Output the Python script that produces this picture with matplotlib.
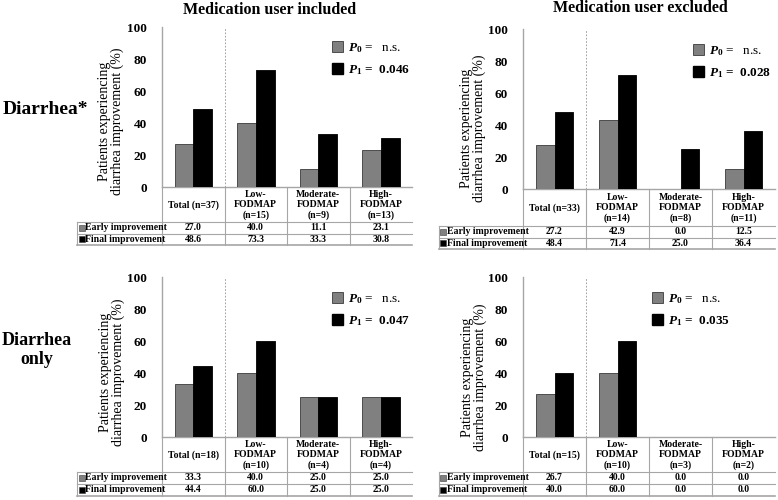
import matplotlib
matplotlib.use("Agg")
import matplotlib.pyplot as plt
from matplotlib.patches import Patch
import numpy as np

plt.rcParams['font.family'] = ['Liberation Serif', 'DejaVu Serif']
plt.rcParams['mathtext.fontset'] = 'custom'
plt.rcParams['mathtext.it'] = 'Liberation Serif:italic:bold'
plt.rcParams['mathtext.rm'] = 'Liberation Serif:bold'
plt.rcParams['mathtext.bf'] = 'Liberation Serif:bold'

# ---------------- data ----------------
groups = ["Total", "Low-\nFODMAP", "Moderate-\nFODMAP", "High-\nFODMAP"]
row_labels = ["Early improvement", "Final improvement"]
yticks = [0, 20, 40, 60, 80, 100]

n_inc = [37, 15, 9, 13]
early_inc = [27.0, 40.0, 11.1, 23.1]
final_inc = [48.6, 73.3, 33.3, 30.8]

n_exc = [33, 14, 8, 11]
early_exc = [27.2, 42.9, 0.0, 12.5]
final_exc = [48.4, 71.4, 25.0, 36.4]

n_only_inc = [18, 10, 4, 4]
early_only_inc = [33.3, 40.0, 25.0, 25.0]
final_only_inc = [44.4, 60.0, 25.0, 25.0]

n_only_exc = [15, 10, 3, 2]
early_only_exc = [26.7, 40.0, 0.0, 0.0]
final_only_exc = [40.0, 60.0, 0.0, 0.0]

p0_labels = ["n.s.", "n.s.", "n.s.", "n.s."]
p1_labels = ["0.046", "0.028", "0.047", "0.035"]

col_titles = ["Medication user included", "Medication user excluded"]
row_titles = ["Diarrhea*", "Diarrhea\nonly"]

# ---------------- layout ----------------
W, H = 778, 500
fig = plt.figure(figsize=(W / 100, H / 100), dpi=100)

def fx(x):
    return x / W

def fy(y):
    return 1 - y / H

GREY = '#808080'
EDGE = '#3a3a3a'
LINE = '#a6a6a6'

panels = [
    dict(x0=162, x1=412, ytop=27, yzero=187, cb=222, eb=233.5, fb=245, lx=77, lgx=332, lgy=41, ylx=111, yly=121,
         n=n_inc, early=early_inc, final=final_inc, p0=p0_labels[0], p1=p1_labels[0]),
    dict(x0=523, x1=775, ytop=29, yzero=189, cb=226, eb=237.5, fb=249, lx=439, lgx=693, lgy=44, ylx=473, yly=128,
         n=n_exc, early=early_exc, final=final_exc, p0=p0_labels[1], p1=p1_labels[1]),
    dict(x0=162, x1=412, ytop=277, yzero=437, cb=472, eb=484, fb=496, lx=77, lgx=332, lgy=292, ylx=112, yly=372,
         n=n_only_inc, early=early_only_inc, final=final_only_inc, p0=p0_labels[2], p1=p1_labels[2]),
    dict(x0=523, x1=775, ytop=277, yzero=437, cb=472, eb=484, fb=496, lx=439, lgx=652, lgy=292, ylx=474, yly=377,
         n=n_only_exc, early=early_only_exc, final=final_only_exc, p0=p0_labels[3], p1=p1_labels[3]),
]

bw = 0.30
for p in panels:
    ax = fig.add_axes([fx(p['x0']), fy(p['yzero']), (p['x1'] - p['x0']) / W, (p['yzero'] - p['ytop']) / H])
    idx = np.arange(len(groups)) + 0.5
    ax.bar(idx - bw / 2, p['early'], bw, color=GREY, edgecolor=EDGE, linewidth=0.6, zorder=3)
    ax.bar(idx + bw / 2, p['final'], bw, color='black', edgecolor='black', linewidth=0.6, zorder=3)
    ax.set_xlim(0, len(groups))
    ax.set_ylim(0, 100)
    ax.set_yticks(yticks)
    ax.set_yticklabels([str(t) for t in yticks], fontsize=9.5, fontweight='bold')
    ax.tick_params(axis='y', length=0, pad=11)
    ax.set_xticks([])
    for s in ['top', 'right']:
        ax.spines[s].set_visible(False)
    ax.spines['left'].set_color(LINE)
    ax.spines['left'].set_linewidth(1.0)
    ax.spines['bottom'].set_color(LINE)
    ax.spines['bottom'].set_linewidth(1.0)
    ax.axvline(1, color='#909090', linestyle=(0, (2, 2)), linewidth=0.6, zorder=1)

    fig.text(fx(p['ylx']), fy(p['yly']), "Patients experiencing\ndiarrhea improvement (%)",
             rotation=90, ha='center', va='center', fontsize=10, linespacing=1.0)

    handles = [Patch(facecolor=GREY, edgecolor=EDGE, linewidth=0.6),
               Patch(facecolor='black', edgecolor='black')]
    labels = [r"$P_{\mathit{0}}$ =   " + p['p0'], r"$P_{\mathit{1}}$ =  " + p['p1']]
    leg = ax.legend(handles, labels, loc='upper left', bbox_to_anchor=(fx(p['lgx']), fy(p['lgy'])),
                    bbox_transform=fig.transFigure, frameon=False, borderpad=0, borderaxespad=0,
                    handlelength=0.85, handleheight=0.9, handletextpad=0.4, labelspacing=0.6,
                    prop={'size': 9.5, 'weight': 'bold'})
    texts = leg.get_texts()
    texts[0].set_fontweight('normal')

    # table axes in pixel coordinates
    tax = fig.add_axes([fx(p['lx']), fy(p['fb']), (p['x1'] - p['lx']) / W, (p['fb'] - p['yzero']) / H])
    tax.set_xlim(p['lx'], p['x1'])
    tax.set_ylim(p['fb'], p['yzero'])
    tax.axis('off')
    cw = (p['x1'] - p['x0']) / len(groups)
    for k in range(len(groups)):
        xv = p['x0'] + k * cw
        tax.plot([xv, xv], [p['yzero'], p['fb']], color=LINE, lw=0.8, clip_on=False)
    tax.plot([p['lx'], p['lx']], [p['cb'], p['fb']], color=LINE, lw=0.8, clip_on=False)
    for yy, lw in [(p['cb'], 0.8), (p['eb'], 0.8), (p['fb'], 1.2)]:
        tax.plot([p['lx'], p['x1']], [yy, yy], color=LINE, lw=lw, clip_on=False)
    for k, g in enumerate(groups):
        xc = p['x0'] + (k + 0.5) * cw
        lab = f"{g} (n={p['n'][k]})" if k == 0 else f"{g}\n(n={p['n'][k]})"
        tax.text(xc, (p['yzero'] + p['cb']) / 2 + 0.5, lab,
                 ha='center', va='center', fontsize=7, fontweight='bold', linespacing=1.2)
    for r, (vals, col) in enumerate([(p['early'], GREY), (p['final'], 'black')]):
        ytop_r = p['cb'] if r == 0 else p['eb']
        ybot_r = p['eb'] if r == 0 else p['fb']
        yc = (ytop_r + ybot_r) / 2
        tax.plot([p['lx'] + 4.5], [yc], marker='s', markersize=3.8, color=col,
                 markeredgecolor=EDGE, markeredgewidth=0.4, clip_on=False)
        tax.text(p['lx'] + 8, yc, row_labels[r], ha='left', va='center', fontsize=7, fontweight='bold')
        for k, v in enumerate(vals):
            xc = p['x0'] + (k + 0.5) * cw
            tax.text(xc, yc, f"{v:.1f}", ha='center', va='center', fontsize=7, fontweight='bold')

fig.text(fx(270), fy(10), col_titles[0], ha='center', va='center', fontsize=11.5, fontweight='bold')
fig.text(fx(640), fy(8), col_titles[1], ha='center', va='center', fontsize=11.5, fontweight='bold')
fig.text(fx(3), fy(110), row_titles[0], ha='left', va='center', fontsize=14, fontweight='bold')
fig.text(fx(37), fy(350), row_titles[1], ha='center', va='center', fontsize=13, fontweight='bold', linespacing=1.15)

fig.savefig("out.png", dpi=100)
